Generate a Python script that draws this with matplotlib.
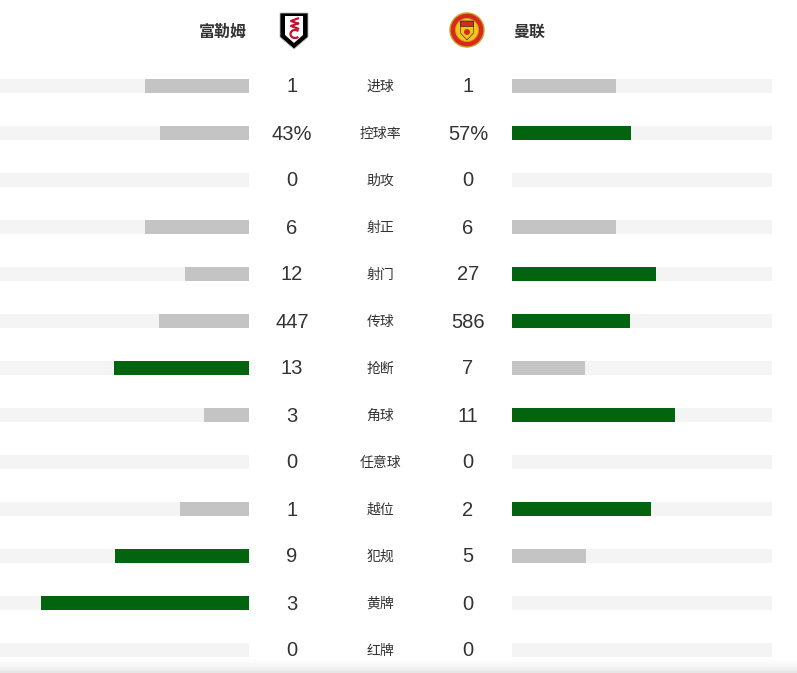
import numpy as np
import matplotlib.pyplot as plt
from matplotlib.patches import Polygon, Circle, Rectangle, Arc
from matplotlib.colors import LinearSegmentedColormap

plt.rcParams['font.family'] = ['Noto Sans CJK SC', 'DejaVu Sans']

home = "富勒姆"
away = "曼联"
stats = ["进球", "控球率", "助攻", "射正", "射门", "传球", "抢断", "角球", "任意球", "越位", "犯规", "黄牌", "红牌"]
home_vals = [1, 43, 0, 6, 12, 447, 13, 3, 0, 1, 9, 3, 0]
away_vals = [1, 57, 0, 6, 27, 586, 7, 11, 0, 2, 5, 0, 0]
home_txt = ["1", "43%", "0", "6", "12", "447", "13", "3", "0", "1", "9", "3", "0"]
away_txt = ["1", "57%", "0", "6", "27", "586", "7", "11", "0", "2", "5", "0", "0"]

GREEN = "#03640f"
GRAY = "#c4c4c4"
BG = "#f4f4f4"
TXT = "#333333"
NUMFONT = ["Liberation Sans", "DejaVu Sans"]

fig = plt.figure(figsize=(7.97, 6.73), dpi=100)
ax = fig.add_axes([0, 0, 1, 1])
ax.set_xlim(0, 797)
ax.set_ylim(673, 0)
ax.axis("off")

y = 86 + 47 * np.arange(len(stats))
full = 208.0
h = 14

hv = np.array(home_vals, float)
av = np.array(away_vals, float)
tot = hv + av
safe = np.where(tot > 0, tot, 1)
hw = hv / safe * full
aw = av / safe * full
hc = [GREEN if a > b else GRAY for a, b in zip(home_vals, away_vals)]
ac = [GREEN if b > a else GRAY for a, b in zip(home_vals, away_vals)]

# background tracks
ax.barh(y, 249, left=0, height=h, color=BG, zorder=1)
ax.barh(y, 260, left=512, height=h, color=BG, zorder=1)
# value bars
ax.barh(y, -hw, left=249, height=h, color=hc, zorder=2)
ax.barh(y, aw, left=512, height=h, color=ac, zorder=2)

for yi, s, a, b in zip(y, stats, home_txt, away_txt):
    ax.text(292, yi + 1, a, ha="center", va="center", fontsize=14.5, color=TXT, family=NUMFONT)
    ax.text(468, yi + 1, b, ha="center", va="center", fontsize=14.5, color=TXT, family=NUMFONT)
    ax.text(380.5, yi + 1, s, ha="center", va="center", fontsize=10, color=TXT)

# team names
ax.text(247, 32, home, ha="right", va="center", fontsize=11.5, color=TXT, fontweight="bold")
ax.text(513, 32, away, ha="left", va="center", fontsize=11.5, color=TXT, fontweight="bold")

# fulham crest (rough)
shield = [(280, 13), (308, 13), (308, 37), (294, 49), (280, 37)]
ax.add_patch(Polygon(shield, closed=True, fc="black", ec="#bbbbbb", lw=0.6, zorder=3))
inner = [(285, 16), (303, 16), (303, 35), (294, 43), (285, 35)]
ax.add_patch(Polygon(inner, closed=True, fc="white", ec="none", zorder=4))
for cy in (21, 26):
    ax.plot([299, 291, 299], [cy - 3, cy, cy + 3], color="#c8102e", lw=1.6, zorder=5,
            solid_capstyle="butt")
ax.add_patch(Arc((295, 34), 9, 8, theta1=40, theta2=320, color="#c8102e", lw=1.6, zorder=5))

# man utd crest (rough)
ax.add_patch(Circle((467, 30), 17, fc="#da291c", ec="#c9a227", lw=1.0, zorder=3))
ax.add_patch(Circle((467, 30), 11.5, fc="#f5c518", ec="#c9a227", lw=0.6, zorder=4))
crest = [(460.5, 21), (473.5, 21), (473.5, 33), (467, 40), (460.5, 33)]
ax.add_patch(Polygon(crest, closed=True, fc="#f5c518", ec="#1a1a1a", lw=0.4, zorder=5))
ax.add_patch(Rectangle((460.5, 21), 13, 5, fc="#da291c", ec="#1a1a1a", lw=0.4, zorder=6))
ax.add_patch(Circle((467, 32), 3, fc="#da291c", ec="none", zorder=6))

# bottom shadow
grad = np.linspace(0, 1, 50).reshape(-1, 1)
cm = LinearSegmentedColormap.from_list("s", [(1, 1, 1, 0), (0.9, 0.9, 0.9, 1)])
ax.imshow(grad, cmap=cm, extent=(0, 797, 673, 656), aspect="auto", zorder=0)
ax.set_xlim(0, 797)
ax.set_ylim(673, 0)

fig.savefig("out.png", dpi=100)
